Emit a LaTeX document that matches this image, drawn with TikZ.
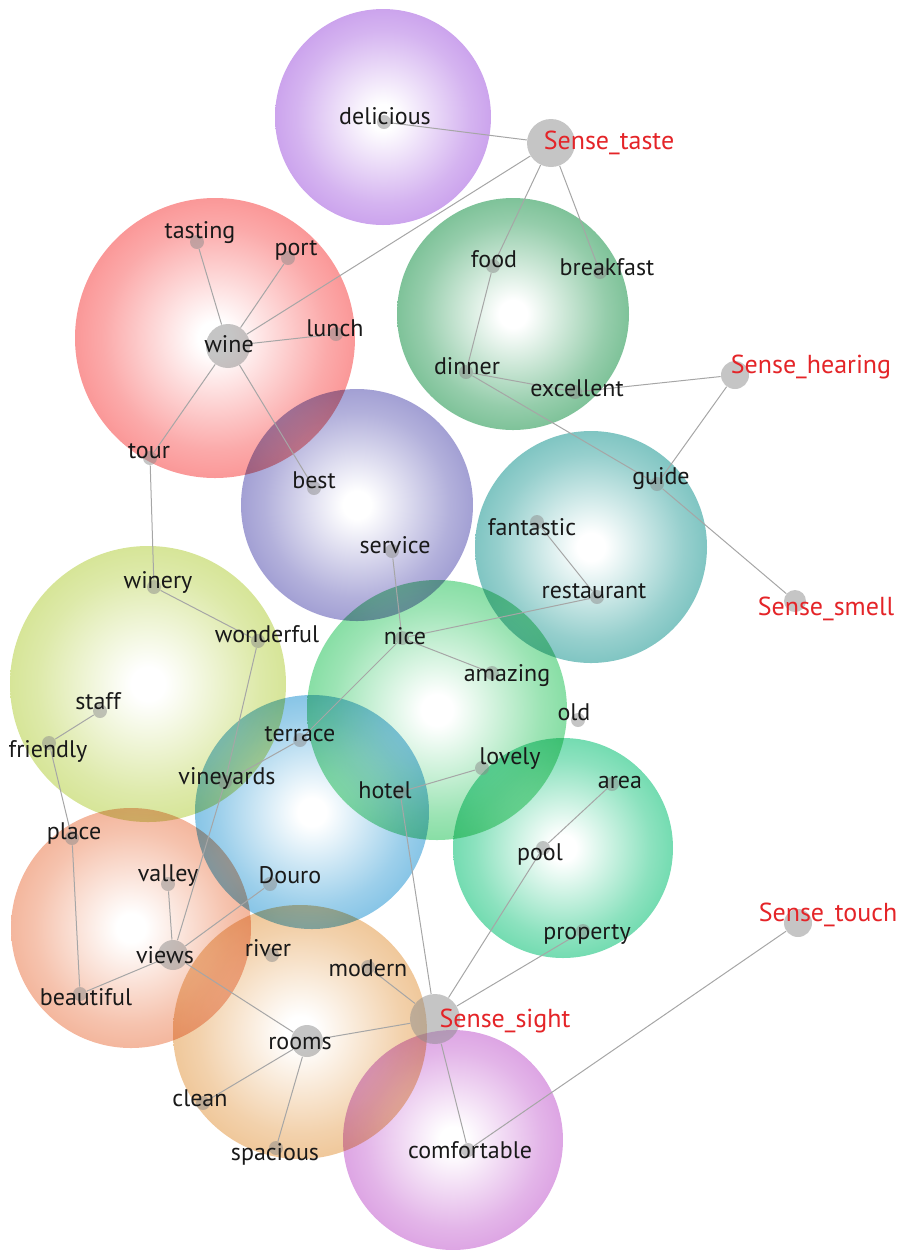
\documentclass[tikz,border=0pt]{standalone}
\usepackage{fontspec}
\setsansfont{PT Sans}

% white core, coloured rim; rim colour is set per bubble
\pgfdeclareradialshading[bubcol]{bubble}{\pgfpoint{0bp}{0bp}}{color(0bp)=(white); color(3bp)=(white); color(20bp)=(bubcol!55); color(36bp)=(bubcol!92); color(50bp)=(bubcol); color(60bp)=(bubcol)}

\definecolor{bdelicious}{RGB}{178,118,228}
\definecolor{bwine}{RGB}{248,100,100}
\definecolor{bfood}{RGB}{62,164,102}
\definecolor{bbest}{RGB}{116,112,190}
\definecolor{bfantastic}{RGB}{64,168,164}
\definecolor{bwinery}{RGB}{194,216,100}
\definecolor{bnice}{RGB}{76,206,120}
\definecolor{bdouro}{RGB}{76,168,218}
\definecolor{bpool}{RGB}{46,202,138}
\definecolor{bviews}{RGB}{238,146,108}
\definecolor{brooms}{RGB}{232,172,104}
\definecolor{bcomfort}{RGB}{204,120,214}
\definecolor{sensered}{RGB}{228,36,40}

\begin{document}
\begin{tikzpicture}[
  x=0.5pt, y=-0.5pt,
  bubble/.style={shading=bubble, /utils/exec={\colorlet{bubcol}{#1}}, blend mode=multiply},
  termdot/.style={circle, fill=black!45, fill opacity=0.5, inner sep=0pt, minimum size=#1},
  termdot/.default=7pt,
  word/.style={font=\sffamily\fontsize{12}{12}\selectfont, text=black!90, inner sep=0pt},
  sense/.style={font=\sffamily\fontsize{13}{13}\selectfont, text=sensered, inner sep=0pt},
  link/.style={draw=black!35, line width=0.5pt}
]
  \useasboundingbox (0,0) rectangle (904,1250);

  % bubbles
  \shade[bubble=bdelicious] (383,117) circle[radius=108];
  \shade[bubble=bwine] (215,338) circle[radius=140];
  \shade[bubble=bfood] (513,314) circle[radius=116];
  \shade[bubble=bbest] (357,505) circle[radius=116];
  \shade[bubble=bfantastic] (591,547) circle[radius=116];
  \shade[bubble=bwinery] (148,684) circle[radius=138];
  \shade[bubble=bnice] (437,710) circle[radius=130];
  \shade[bubble=bdouro] (312,812) circle[radius=117];
  \shade[bubble=bpool] (563,848) circle[radius=110];
  \shade[bubble=bviews] (131,928) circle[radius=120];
  \shade[bubble=brooms] (300,1032) circle[radius=127];
  \shade[bubble=bcomfort] (453,1140) circle[radius=110];

  % terms
  \node[termdot=24pt] (taste) at (551,143) {};
  \node[termdot=14pt] (hearing) at (735,375) {};
  \node[termdot=11pt] (smell) at (795,601) {};
  \node[termdot=14pt] (touch) at (798,923) {};
  \node[termdot=25pt] (sight) at (435,1019) {};

  \node[termdot] (delicious) at (384,122) {};
  \node[termdot] (food) at (493,266) {};
  \node[termdot] (breakfast) at (600,272) {};
  \node[termdot=22pt] (wine) at (228,346) {};
  \node[termdot] (tasting) at (197,242) {};
  \node[termdot] (port) at (288,258) {};
  \node[termdot] (lunch) at (336,334) {};
  \node[termdot] (tour) at (150,458) {};
  \node[termdot] (best) at (314,488) {};
  \node[termdot] (dinner) at (466,372) {};
  \node[termdot] (excellent) at (575,392) {};
  \node[termdot] (guide) at (657,484) {};
  \node[termdot] (fantastic) at (537,522) {};
  \node[termdot] (restaurant) at (597,597) {};
  \node[termdot] (service) at (392,551) {};
  \node[termdot] (winery) at (154,587) {};
  \node[termdot] (wonderful) at (258,641) {};
  \node[termdot] (nice) at (402,638) {};
  \node[termdot] (amazing) at (492,673) {};
  \node[termdot] (old) at (578,720) {};
  \node[termdot] (staff) at (100,711) {};
  \node[termdot] (friendly) at (49,743) {};
  \node[termdot] (terrace) at (300,740) {};
  \node[termdot] (vineyards) at (225,782) {};
  \node[termdot] (hotel) at (400,792) {};
  \node[termdot] (lovely) at (482,768) {};
  \node[termdot] (area) at (612,784) {};
  \node[termdot] (pool) at (543,848) {};
  \node[termdot] (property) at (583,931) {};
  \node[termdot] (place) at (72,838) {};
  \node[termdot] (valley) at (168,884) {};
  \node[termdot] (douro) at (270,884) {};
  \node[termdot=15pt] (views) at (173,955) {};
  \node[termdot] (river) at (272,955) {};
  \node[termdot] (modern) at (368,967) {};
  \node[termdot] (beautiful) at (80,994) {};
  \node[termdot=16pt] (rooms) at (307,1041) {};
  \node[termdot] (clean) at (203,1103) {};
  \node[termdot] (spacious) at (276,1148) {};
  \node[termdot] (comfortable) at (468,1150) {};

  % links
  \draw[link] (taste) -- (delicious);
  \draw[link] (taste) -- (wine);
  \draw[link] (taste) -- (food);
  \draw[link] (taste) -- (breakfast);
  \draw[link] (wine) -- (tasting);
  \draw[link] (wine) -- (port);
  \draw[link] (wine) -- (lunch);
  \draw[link] (wine) -- (tour);
  \draw[link] (wine) -- (best);
  \draw[link] (food) -- (dinner);
  \draw[link] (dinner) -- (excellent);
  \draw[link] (excellent) -- (hearing);
  \draw[link] (dinner) -- (guide);
  \draw[link] (guide) -- (smell);
  \draw[link] (guide) -- (hearing);
  \draw[link] (fantastic) -- (restaurant);
  \draw[link] (restaurant) -- (nice);
  \draw[link] (service) -- (nice);
  \draw[link] (nice) -- (amazing);
  \draw[link] (nice) -- (terrace);
  \draw[link] (tour) -- (winery);
  \draw[link] (winery) -- (wonderful);
  \draw[link] (wonderful) -- (vineyards);
  \draw[link] (terrace) -- (vineyards);
  \draw[link] (vineyards) -- (views);
  \draw[link] (staff) -- (friendly);
  \draw[link] (friendly) -- (place);
  \draw[link] (place) -- (beautiful);
  \draw[link] (views) -- (valley);
  \draw[link] (views) -- (beautiful);
  \draw[link] (views) -- (douro);
  \draw[link] (views) -- (rooms);
  \draw[link] (rooms) -- (sight);
  \draw[link] (rooms) -- (clean);
  \draw[link] (rooms) -- (spacious);
  \draw[link] (modern) -- (sight);
  \draw[link] (hotel) -- (sight);
  \draw[link] (hotel) -- (lovely);
  \draw[link] (area) -- (pool);
  \draw[link] (pool) -- (sight);
  \draw[link] (property) -- (sight);
  \draw[link] (comfortable) -- (sight);
  \draw[link] (comfortable) -- (touch);

  % labels
  \node[sense] (taste-l) at (609,143) {Sense\_taste};
  \node[sense] (hearing-l) at (811,367) {Sense\_hearing};
  \node[sense] (smell-l) at (826,609) {Sense\_smell};
  \node[sense] (touch-l) at (828,915) {Sense\_touch};
  \node[sense] (sight-l) at (505,1021) {Sense\_sight};

  \node[word] (delicious-l) at (385,116) {delicious};
  \node[word] (food-l) at (494,259) {food};
  \node[word] (breakfast-l) at (607,267) {breakfast};
  \node[word] (wine-l) at (229,344) {wine};
  \node[word] (tasting-l) at (200,233) {tasting};
  \node[word] (port-l) at (296,250) {port};
  \node[word] (lunch-l) at (335,328) {lunch};
  \node[word] (tour-l) at (149,451) {tour};
  \node[word] (best-l) at (314,480) {best};
  \node[word] (dinner-l) at (467,366) {dinner};
  \node[word] (excellent-l) at (577,388) {excellent};
  \node[word] (guide-l) at (661,479) {guide};
  \node[word] (fantastic-l) at (532,527) {fantastic};
  \node[word] (restaurant-l) at (594,591) {restaurant};
  \node[word] (service-l) at (395,545) {service};
  \node[word] (winery-l) at (158,582) {winery};
  \node[word] (wonderful-l) at (267,634) {wonderful};
  \node[word] (nice-l) at (405,636) {nice};
  \node[word] (amazing-l) at (507,676) {amazing};
  \node[word] (old-l) at (574,712) {old};
  \node[word] (staff-l) at (98,701) {staff};
  \node[word] (friendly-l) at (48,751) {friendly};
  \node[word] (terrace-l) at (300,734) {terrace};
  \node[word] (vineyards-l) at (227,778) {vineyards};
  \node[word] (hotel-l) at (385,790) {hotel};
  \node[word] (lovely-l) at (510,759) {lovely};
  \node[word] (area-l) at (620,782) {area};
  \node[word] (pool-l) at (540,854) {pool};
  \node[word] (property-l) at (587,934) {property};
  \node[word] (place-l) at (74,833) {place};
  \node[word] (valley-l) at (168,876) {valley};
  \node[word] (douro-l) at (290,875) {Douro};
  \node[word] (views-l) at (165,955) {views};
  \node[word] (river-l) at (268,948) {river};
  \node[word] (modern-l) at (368,968) {modern};
  \node[word] (beautiful-l) at (86,997) {beautiful};
  \node[word] (rooms-l) at (300,1043) {rooms};
  \node[word] (clean-l) at (200,1098) {clean};
  \node[word] (spacious-l) at (275,1154) {spacious};
  \node[word] (comfortable-l) at (470,1150) {comfortable};
\end{tikzpicture}
\end{document}
